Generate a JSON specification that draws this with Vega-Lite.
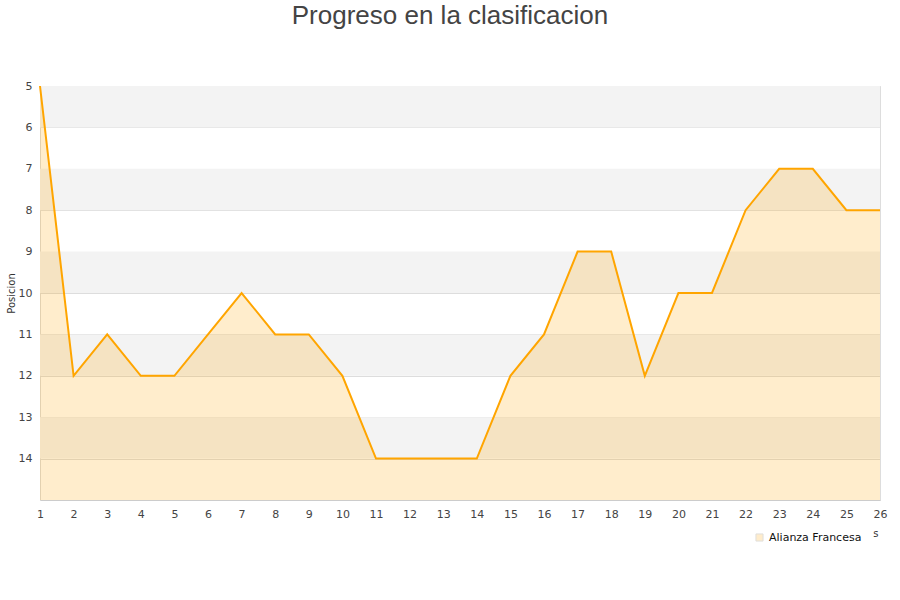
{
  "$schema": "https://vega.github.io/schema/vega-lite/v6.json",
  "width": 840,
  "height": 414,
  "autosize": "none",
  "padding": {"left": 40, "top": 86, "right": 20, "bottom": 100},
  "background": "white",
  "config": {"view": {"stroke": "#dddddd"}, "font": "DejaVu Sans", "axisX": {"labelOverlap": false, "labelFlush": false, "labelBound": false}},
  "title": {"text": "Progreso en la clasificacion", "font": "Liberation Sans", "fontSize": 26, "fontWeight": "normal", "color": "#444444", "anchor": "middle", "offset": 51, "dx": -10},
  "datasets": {
    "bands": [
      {"y": 5, "y2": 6}, {"y": 7, "y2": 8}, {"y": 9, "y2": 10}, {"y": 11, "y2": 12}, {"y": 13, "y2": 14}
    ],
    "pos": [
      {"jornada": 1, "posicion": 5, "equipo": "Alianza Francesa"},
      {"jornada": 2, "posicion": 12, "equipo": "Alianza Francesa"},
      {"jornada": 3, "posicion": 11, "equipo": "Alianza Francesa"},
      {"jornada": 4, "posicion": 12, "equipo": "Alianza Francesa"},
      {"jornada": 5, "posicion": 12, "equipo": "Alianza Francesa"},
      {"jornada": 6, "posicion": 11, "equipo": "Alianza Francesa"},
      {"jornada": 7, "posicion": 10, "equipo": "Alianza Francesa"},
      {"jornada": 8, "posicion": 11, "equipo": "Alianza Francesa"},
      {"jornada": 9, "posicion": 11, "equipo": "Alianza Francesa"},
      {"jornada": 10, "posicion": 12, "equipo": "Alianza Francesa"},
      {"jornada": 11, "posicion": 14, "equipo": "Alianza Francesa"},
      {"jornada": 12, "posicion": 14, "equipo": "Alianza Francesa"},
      {"jornada": 13, "posicion": 14, "equipo": "Alianza Francesa"},
      {"jornada": 14, "posicion": 14, "equipo": "Alianza Francesa"},
      {"jornada": 15, "posicion": 12, "equipo": "Alianza Francesa"},
      {"jornada": 16, "posicion": 11, "equipo": "Alianza Francesa"},
      {"jornada": 17, "posicion": 9, "equipo": "Alianza Francesa"},
      {"jornada": 18, "posicion": 9, "equipo": "Alianza Francesa"},
      {"jornada": 19, "posicion": 12, "equipo": "Alianza Francesa"},
      {"jornada": 20, "posicion": 10, "equipo": "Alianza Francesa"},
      {"jornada": 21, "posicion": 10, "equipo": "Alianza Francesa"},
      {"jornada": 22, "posicion": 8, "equipo": "Alianza Francesa"},
      {"jornada": 23, "posicion": 7, "equipo": "Alianza Francesa"},
      {"jornada": 24, "posicion": 7, "equipo": "Alianza Francesa"},
      {"jornada": 25, "posicion": 8, "equipo": "Alianza Francesa"},
      {"jornada": 26, "posicion": 8, "equipo": "Alianza Francesa"}
    ]
  },
  "layer": [
    {
      "data": {"name": "bands"},
      "mark": {"type": "rect", "color": "#f3f3f3"},
      "encoding": {
        "y": {"field": "y", "type": "quantitative", "scale": {"domain": [5, 15], "reverse": true, "nice": false, "zero": false},
          "axis": {"title": "Posicion", "titleFontSize": 10, "titleFontWeight": "normal", "titleColor": "#333333", "titlePadding": 2, "values": [5,6,7,8,9,10,11,12,13,14], "labelFontSize": 11, "labelColor": "#444444", "tickSize": 0, "labelPadding": 8, "domain": false, "gridColor": "#dddddd"}},
        "y2": {"field": "y2"}
      }
    },
    {
      "data": {"name": "pos"},
      "mark": {"type": "area", "opacity": 0.2, "line": false},
      "encoding": {
        "x": {"field": "jornada", "type": "quantitative", "scale": {"domain": [1, 26], "nice": false, "zero": false},
          "axis": {"title": "s", "titleFontSize": 10, "titleFontWeight": "normal", "titleColor": "#333333", "titleX": 838, "titleY": 28, "titleAnchor": "end", "values": [1,2,3,4,5,6,7,8,9,10,11,12,13,14,15,16,17,18,19,20,21,22,23,24,25,26], "format": "d", "grid": false, "labelFontSize": 11, "labelColor": "#444444", "tickSize": 0, "labelPadding": 8, "labelOverlap": false, "labelFlush": false, "labelBound": false, "domainColor": "#cccccc"}},
        "y": {"field": "posicion", "type": "quantitative"},
        "y2": {"datum": 15},
        "color": {"field": "equipo", "type": "nominal", "scale": {"range": ["#ffa500"]},
          "legend": {"title": null, "orient": "none", "legendX": 714, "legendY": 446, "symbolType": "square", "symbolSize": 50, "symbolStrokeColor": "#6a6050", "symbolStrokeWidth": 1, "labelFontSize": 11, "labelColor": "#111111",
            "encode": {"symbols": {"update": {"fill": {"value": "#feecc9"}, "opacity": {"value": 1}, "fillOpacity": {"value": 1}, "strokeOpacity": {"value": 1}, "stroke": {"value": "#6a6050"}}}}}}
      }
    },
    {
      "data": {"name": "pos"},
      "mark": {"type": "line", "strokeWidth": 2, "color": "#ffa500"},
      "encoding": {
        "x": {"field": "jornada", "type": "quantitative",
          "axis": {"title": "s", "titleFontSize": 10, "titleFontWeight": "normal", "titleColor": "#333333", "titleX": 838, "titleY": 28, "titleAnchor": "end", "values": [1,2,3,4,5,6,7,8,9,10,11,12,13,14,15,16,17,18,19,20,21,22,23,24,25,26], "format": "d", "grid": false, "labelFontSize": 11, "labelColor": "#444444", "tickSize": 0, "labelPadding": 8, "labelOverlap": false, "labelFlush": false, "labelBound": false, "domainColor": "#cccccc"}},
        "y": {"field": "posicion", "type": "quantitative"}
      }
    }
  ]
}
